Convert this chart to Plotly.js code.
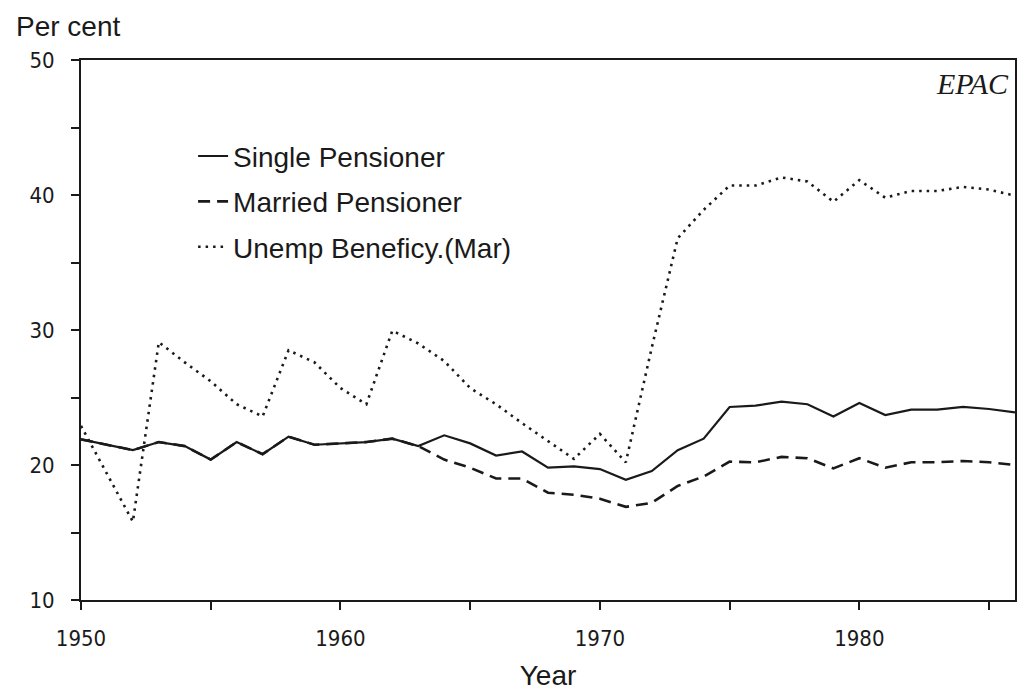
<!DOCTYPE html>
<html>
<head>
<meta charset="utf-8">
<script src="https://cdn.plot.ly/plotly-3.0.1.min.js"></script>
<style>html,body{margin:0;padding:0;background:#fff;}#chart{width:1020px;height:691px;}</style>
</head>
<body>
<div id="chart"></div>
<script>
const years = [1950,1951,1952,1953,1954,1955,1956,1957,1958,1959,1960,1961,1962,1963,1964,1965,1966,1967,1968,1969,1970,1971,1972,1973,1974,1975,1976,1977,1978,1979,1980,1981,1982,1983,1984,1985,1986];
const singlePensioner = [21.9,21.5,21.1,21.7,21.4,20.4,21.7,20.8,22.1,21.5,21.6,21.7,21.95,21.4,22.2,21.6,20.7,21.0,19.8,19.9,19.7,18.9,19.55,21.1,21.95,24.3,24.4,24.7,24.5,23.6,24.6,23.7,24.1,24.1,24.3,24.15,23.9];
const marriedPensioner = [21.9,21.5,21.1,21.7,21.4,20.4,21.7,20.8,22.1,21.5,21.6,21.7,21.95,21.4,20.4,19.8,19.0,19.0,17.95,17.8,17.5,16.9,17.2,18.45,19.15,20.25,20.2,20.6,20.5,19.75,20.5,19.8,20.2,20.2,20.3,20.2,20.0];
const unempBeneficiary = [22.9,19.4,15.8,29.1,27.6,26.2,24.5,23.6,28.5,27.6,25.7,24.5,29.95,29.0,27.7,25.7,24.5,23.1,21.75,20.45,22.3,20.2,28.7,36.8,38.9,40.7,40.7,41.3,41.0,39.5,41.1,39.8,40.3,40.3,40.6,40.4,39.95];
const seriesNames = ["Single Pensioner","Married Pensioner","Unemp Beneficy.(Mar)"];
const xTickVals = [1950,1955,1960,1965,1970,1975,1980,1985];
const xTickText = ["1950","","1960","","1970","","1980",""];
const yTickVals = [10,15,20,25,30,35,40,45,50];
const yTickText = ["10","","20","","30","","40","","50"];

const ink = "#1a1a1a";
const tickFont = {family: "Liberation Sans Narrow, DejaVu Sans Condensed, Liberation Sans, sans-serif", size: 22, color: ink};
const textFont = {family: "Liberation Sans, Arial, sans-serif", size: 28, color: ink};

const traces = [
  {x: years, y: singlePensioner, name: seriesNames[0], mode: "lines", legendgroup: "a",
   line: {color: ink, width: 2.2, dash: "solid"}},
  {x: years, y: marriedPensioner, name: seriesNames[1], mode: "lines", legendgroup: "b",
   line: {color: ink, width: 2.6, dash: "12px,7px"}},
  {x: years, y: unempBeneficiary, name: seriesNames[2], mode: "lines", legendgroup: "c",
   line: {color: ink, width: 2.6, dash: "2.5px,5px"}}
];

const layout = {
  width: 1020, height: 691,
  margin: {l: 81, r: 5, t: 60, b: 91},
  paper_bgcolor: "#fff", plot_bgcolor: "#fff",
  showlegend: true,
  legend: {x: 0.12, y: 0.868, xanchor: "left", yanchor: "top", bgcolor: "rgba(0,0,0,0)",
           font: textFont, tracegroupgap: 6, traceorder: "grouped"},
  xaxis: {range: [1950, 1986], tickvals: xTickVals, ticktext: xTickText,
          ticks: "outside", ticklen: 8, tickwidth: 2, tickcolor: ink,
          showline: true, linecolor: ink, linewidth: 2, mirror: true,
          showgrid: false, zeroline: false, tickfont: tickFont, ticklabelstandoff: 10,
          title: {text: "Year", font: textFont, standoff: 16}},
  yaxis: {range: [10, 50], tickvals: yTickVals, ticktext: yTickText,
          ticks: "outside", ticklen: 8, tickwidth: 2, tickcolor: ink,
          showline: true, linecolor: ink, linewidth: 2, mirror: true,
          showgrid: false, zeroline: false, tickfont: tickFont, ticklabelstandoff: 12},
  annotations: [
    {text: "Per cent", xref: "paper", yref: "paper", x: -0.072, y: 1.062, xanchor: "left", yanchor: "middle",
     showarrow: false, font: textFont},
    {text: "<i>EPAC</i>", xref: "paper", yref: "paper", x: 1, y: 0.957, xanchor: "right", yanchor: "middle",
     xshift: -4, showarrow: false, font: {family: "Liberation Serif, Times New Roman, serif", size: 30, color: ink}}
  ]
};

Plotly.newPlot("chart", traces, layout, {displayModeBar: false, staticPlot: true});
</script>
</body>
</html>
